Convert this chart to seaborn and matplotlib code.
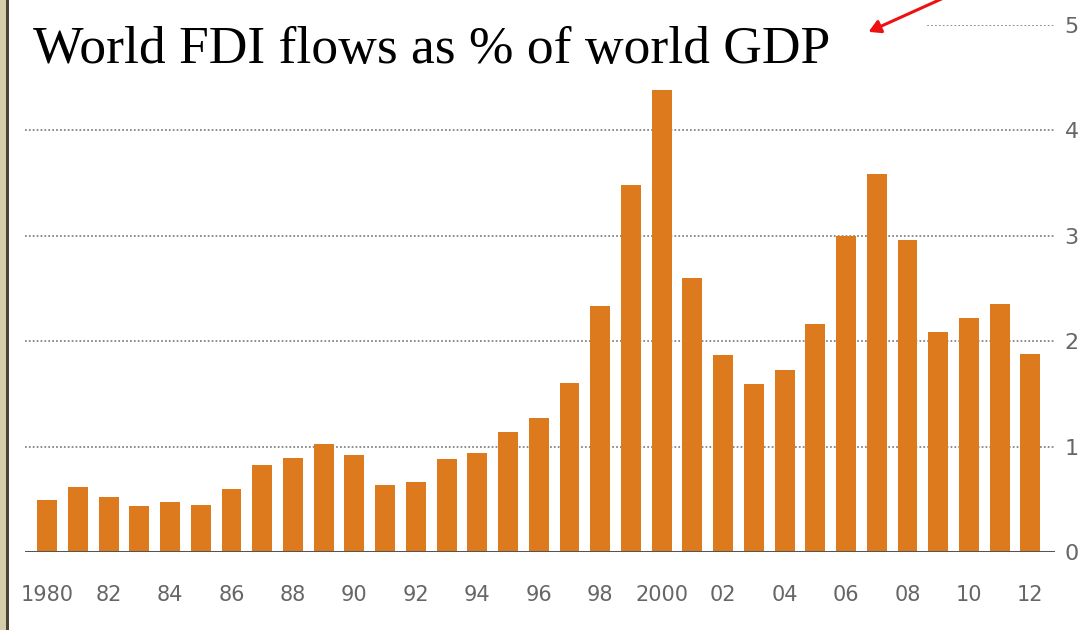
import matplotlib
matplotlib.use("Agg")
import matplotlib.pyplot as plt
from matplotlib.patches import Rectangle, FancyArrowPatch
import seaborn as sns
import pandas as pd

years = list(range(1980, 2013))
fdi_pct_gdp = [0.49, 0.62, 0.52, 0.44, 0.47, 0.45, 0.60, 0.83, 0.89, 1.02,
               0.92, 0.64, 0.66, 0.88, 0.94, 1.14, 1.27, 1.60, 2.33, 3.48,
               4.38, 2.60, 1.87, 1.59, 1.73, 2.16, 3.00, 3.59, 2.96, 2.09,
               2.22, 2.35, 1.88]
x_tick_labels = ["1980", "82", "84", "86", "88", "90", "92", "94", "96", "98",
                 "2000", "02", "04", "06", "08", "10", "12"]
y_ticks = [0, 1, 2, 3, 4, 5]
title = "World FDI flows as % of world GDP"

df = pd.DataFrame({"year": [str(y) for y in years], "value": fdi_pct_gdp})

sns.set_theme(style="white")
plt.rcParams["font.family"] = ["DejaVu Sans"]

W, H = 1082, 630
fig = plt.figure(figsize=(W / 100, H / 100), dpi=100)
ax = fig.add_axes([25 / W, (H - 552) / H, (1055 - 25) / W, (552 - 25) / H])

sns.barplot(data=df, x="year", y="value", color="#DD7A1E", saturation=1,
            width=0.65, ax=ax, zorder=3, edgecolor="none")

ax.set_xlim(-0.72, 32.8)
ax.set_ylim(0, 5.0)
for s in ax.spines.values():
    s.set_visible(False)

# gridlines
ax.set_yticks(y_ticks)
ax.yaxis.grid(True, color="#8c8c8c", linestyle=(0, (0.9, 1.1)), linewidth=1.4, zorder=1)
ax.xaxis.grid(False)
ax.set_axisbelow(True)
ax.axhline(0, color="#555555", linewidth=2.2, zorder=4)

ax.yaxis.tick_right()
ax.tick_params(axis="y", length=0, pad=7, labelsize=16, labelcolor="#666666")
ax.set_yticklabels([str(v) for v in y_ticks])
ax.set_xticks(list(range(0, 33, 2)))
ax.set_xticklabels(x_tick_labels)
ax.tick_params(axis="x", length=0, pad=24, labelsize=15, labelcolor="#666666")
ax.set_xlabel("")
ax.set_ylabel("")
ax.patch.set_alpha(0)

# white box behind title (covers top gridline)
fig.add_artist(Rectangle((12 / W, (H - 80) / H), (925 - 12) / W, 80 / H,
                         transform=fig.transFigure, facecolor="white",
                         edgecolor="none", zorder=5))
fig.text(33 / W, (H - 50) / H, title, fontsize=38.5, family="Liberation Serif",
         color="black", va="center", ha="left", zorder=6)

# red arrow
fig.add_artist(FancyArrowPatch((948 / W, (H + 4) / H), (866 / W, (H - 33) / H),
                               transform=fig.transFigure, color="#ee1111",
                               arrowstyle="-|>,head_length=7,head_width=4",
                               linewidth=2.2, zorder=7))

# left border strip
fig.add_artist(Rectangle((0, 0), 6 / W, 1, transform=fig.transFigure,
                         facecolor="#d4ccaa", edgecolor="none", zorder=8))
fig.add_artist(Rectangle((6 / W, 0), 2.5 / W, 1, transform=fig.transFigure,
                         facecolor="#4a4232", edgecolor="none", zorder=8))

fig.savefig("out.png", dpi=100)
